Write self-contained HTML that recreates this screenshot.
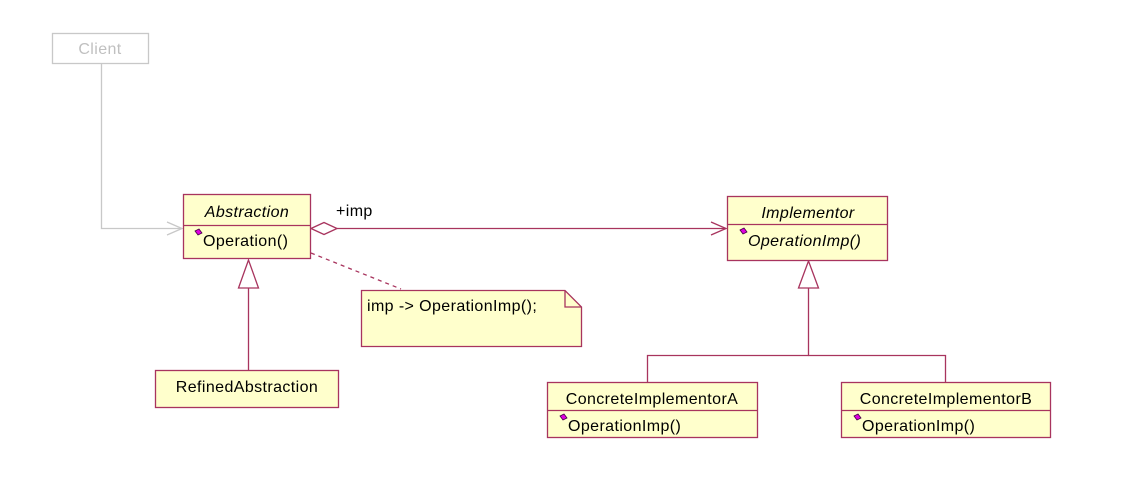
<!DOCTYPE html>
<html><head><meta charset="utf-8"><style>
body{margin:0;background:#fff;width:1146px;height:493px;overflow:hidden}
svg text{font-family:"Liberation Sans",sans-serif;font-size:16px;letter-spacing:0.4px;fill:#000}
</style></head><body>
<svg width="1146" height="493" viewBox="0 0 1146 493" xmlns="http://www.w3.org/2000/svg">
<g fill="none" stroke-width="1.3">
<rect x="52.5" y="33.5" width="96" height="30" fill="#fff" stroke="#c8c8c8"/>
<polyline points="101.5,64 101.5,228.5 182,228.5" stroke="#c8c8c8"/>
<polyline points="167,222 182,228.5 167,235" stroke="#c8c8c8"/>
<line x1="337" y1="228.5" x2="726" y2="228.5" stroke="#a8345e"/>
<polygon points="311,228.5 324,222.5 337,228.5 324,234.5" fill="#fff" stroke="#a8345e"/>
<polyline points="711,222 726,228.5 711,235" stroke="#a8345e"/>
<line x1="311" y1="253" x2="401" y2="289" stroke="#a8345e" stroke-dasharray="4,4"/>
<line x1="248.5" y1="288" x2="248.5" y2="370" stroke="#a8345e"/>
<polygon points="248.5,260 238.5,288 258.5,288" fill="#fff" stroke="#a8345e"/>
<polyline points="808.5,288 808.5,355.5 647.5,355.5 647.5,382" stroke="#a8345e"/>
<polyline points="808.5,355.5 945.5,355.5 945.5,382" stroke="#a8345e"/>
<polygon points="808.5,261 798.5,288 818.5,288" fill="#fff" stroke="#a8345e"/>
</g>
<g fill="#ffffcc" stroke="#a8345e" stroke-width="1.3">
<rect x="183.5" y="194.5" width="127" height="64"/>
<line x1="183.5" y1="225.5" x2="310.5" y2="225.5"/>
<rect x="727.5" y="196.5" width="160" height="64"/>
<line x1="727.5" y1="224.5" x2="887.5" y2="224.5"/>
<rect x="547.5" y="382.5" width="210" height="55"/>
<line x1="547.5" y1="410.5" x2="757.5" y2="410.5"/>
<rect x="841.5" y="382.5" width="209" height="55"/>
<line x1="841.5" y1="410.5" x2="1050.5" y2="410.5"/>
<rect x="155.5" y="370.5" width="183" height="37"/>
<polygon points="361.5,290.5 565,290.5 581.5,307 581.5,346.5 361.5,346.5"/>
<polyline points="565,290.5 565,307 581.5,307" fill="none"/>
</g>
<g fill="#e000e0" stroke="#400040" stroke-width="0.8">
<polygon points="195,231 199,229 202,233 198,235"/>
<polygon points="740,230 744,228 747,232 743,234"/>
<polygon points="560,416 564,414 567,418 563,420"/>
<polygon points="854,416 858,414 861,418 857,420"/>
</g>
<text x="100" y="54" text-anchor="middle" style="fill:#c0c0c0">Client</text>
<text x="247" y="217" text-anchor="middle" font-style="italic">Abstraction</text>
<text x="203" y="246">Operation()</text>
<text x="336" y="216">+imp</text>
<text x="808" y="218" text-anchor="middle" font-style="italic">Implementor</text>
<text x="748" y="246" font-style="italic">OperationImp()</text>
<text x="652" y="404" text-anchor="middle">ConcreteImplementorA</text>
<text x="568" y="431">OperationImp()</text>
<text x="946" y="404" text-anchor="middle">ConcreteImplementorB</text>
<text x="862" y="431">OperationImp()</text>
<text x="247" y="392" text-anchor="middle">RefinedAbstraction</text>
<text x="367" y="311">imp -&gt; OperationImp();</text>
</svg>
</body></html>
